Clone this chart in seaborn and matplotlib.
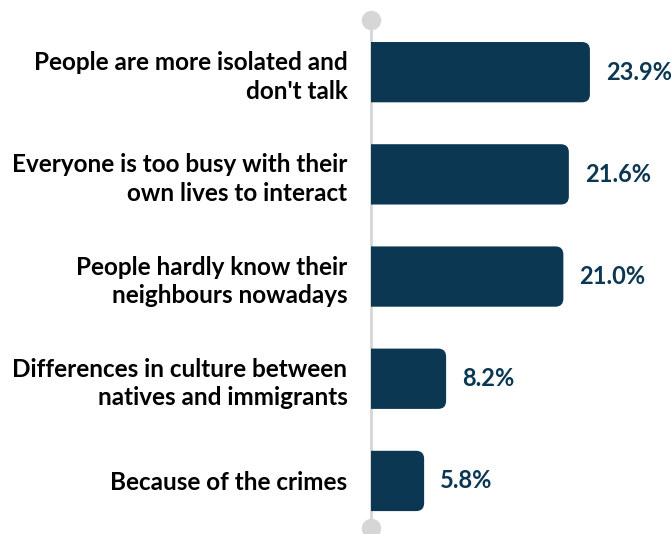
import matplotlib
matplotlib.use('Agg')
import matplotlib.pyplot as plt
import seaborn as sns
import pandas as pd
from matplotlib.path import Path
from matplotlib.patches import PathPatch

# data
reasons = [
    "People are more isolated and\ndon't talk",
    "Everyone is too busy with their\nown lives to interact",
    "People hardly know their\nneighbours nowadays",
    "Differences in culture between\nnatives and immigrants",
    "Because of the crimes",
]
shares = [23.9, 21.6, 21.0, 8.2, 5.8]

BAR = '#0b3753'
GREY = '#d6d6d6'
W, H = 671, 534

df = pd.DataFrame({'reason': reasons, 'share': shares})

sns.set_style('white')
plt.rcParams['font.family'] = ['Lato', 'DejaVu Sans']

fig = plt.figure(figsize=(W / 100, H / 100), dpi=100)
ax = fig.add_axes([371 / W, 4 / H, 300 / W, 512 / H])

bar_h = 0.59
sns.barplot(data=df, x='share', y='reason', color=BAR, width=bar_h,
            orient='h', ax=ax, saturation=1)

xmax = 300 / 9.16
ax.set_xlim(0, xmax)
ax.set_ylim(4.48, -0.53)

# swap each bar for one with rounded right corners (radius ~8 px)
px_x = 300 / xmax
px_y = 512 / (4.48 + 0.53)
rx, ry = 8 / px_x, 8 / px_y
for p in list(ax.patches):
    x0, y0 = p.get_x(), p.get_y()
    w, h = p.get_width(), p.get_height()
    x1, y1 = x0 + w, y0 + h
    p.remove()
    verts = [(x0, y0), (x1 - rx, y0), (x1, y0), (x1, y0 + ry),
             (x1, y1 - ry), (x1, y1), (x1 - rx, y1), (x0, y1), (x0, y0)]
    codes = [Path.MOVETO, Path.LINETO, Path.CURVE3, Path.CURVE3,
             Path.LINETO, Path.CURVE3, Path.CURVE3, Path.LINETO, Path.CLOSEPOLY]
    ax.add_patch(PathPatch(Path(verts, codes), fc=BAR, ec='none', zorder=2))
    ax.text(x1 + 16 / px_x, y0 + h / 2, f'{w:.1f}%', va='center', ha='left',
            fontsize=17, fontweight='bold', color=BAR)

# grey axis line with end dots
ax.plot([0, 0], [-0.53 + 0.02, 4.48 - 0.02], color=GREY, lw=2, zorder=1,
        clip_on=False)
ax.plot([0, 0], [-0.53 + 0.02, 4.48 - 0.02], 'o', color=GREY, ms=13,
        zorder=1, clip_on=False)

ax.set_xlabel('')
ax.set_ylabel('')
ax.set_xticks([])
ax.tick_params(axis='y', length=0, pad=17)
for lab in ax.get_yticklabels():
    lab.set_fontsize(17.5)
    lab.set_fontweight('bold')
    lab.set_color('black')
    lab.set_horizontalalignment('right')
    lab.set_linespacing(1.3)
sns.despine(ax=ax, left=True, bottom=True)

fig.savefig('out.png', dpi=100)
